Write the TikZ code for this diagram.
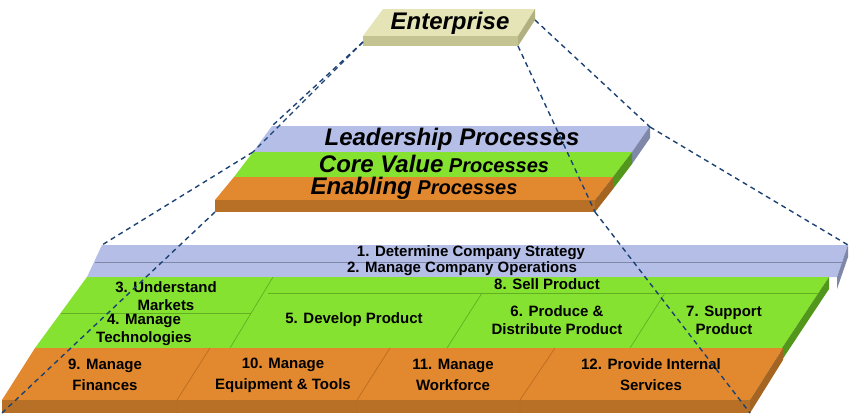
\documentclass[tikz,border=0pt]{standalone}
\usepackage{fontspec}
\setmainfont{Liberation Sans}

\definecolor{entTop}{RGB}{228,228,182}
\definecolor{entFront}{RGB}{196,196,146}
\definecolor{entSide}{RGB}{176,176,128}
\definecolor{leadBlue}{RGB}{180,190,230}
\definecolor{leadSide}{RGB}{128,136,170}
\definecolor{coreGreen}{RGB}{134,226,48}
\definecolor{coreLine}{RGB}{96,176,34}
\definecolor{coreSide}{RGB}{82,150,28}
\definecolor{enabOrange}{RGB}{226,136,46}
\definecolor{enabLine}{RGB}{186,108,34}
\definecolor{enabSide}{RGB}{184,112,38}
\definecolor{linkBlue}{RGB}{28,66,116}

\tikzset{
  link/.style={draw=linkBlue, line width=1.4pt, dash pattern=on 5pt off 4pt},
  celltext/.style={inner sep=0pt, align=center, font=\fontsize{15}{18}\selectfont\bfseries},
  lowtext/.style={celltext, font=\fontsize{15}{21}\selectfont\bfseries},
  tiertext/.style={inner sep=0pt, font=\fontsize{24}{28}\selectfont\bfseries\itshape},
  divider/.style={line width=0.7pt},
}

\begin{document}
\begin{tikzpicture}[x=1pt, y=-1pt]
    \useasboundingbox (0,0) rectangle (850,415);

    % Enterprise Block
    \fill[entTop] (383,9) -- (535,9) -- (518,36) -- (363,36) -- cycle;
    \fill[entFront] (363,36) -- (518,36) -- (518,46) -- (363,46) -- cycle;
    \fill[entSide] (535,9) -- (535,20) -- (518,46) -- (518,36) -- cycle;
    \node[tiertext] (enterprise) at (450,23) {Enterprise};
    \coordinate (ent-left) at (363,42);
    \coordinate (ent-right) at (535,20);
    \coordinate (ent-front) at (518,46);

    % Process Tiers
    \fill[leadBlue] (272,126) -- (650,126) -- (632,152) -- (253,152) -- cycle;
    \fill[leadSide] (650,126) -- (650,138) -- (632,164) -- (632,152) -- cycle;
    \fill[coreGreen] (253,152) -- (632,152) -- (613,177) -- (234,177) -- cycle;
    \fill[coreSide] (632,152) -- (632,164) -- (613,189) -- (613,177) -- cycle;
    \fill[enabOrange] (234,177) -- (613,177) -- (595,200) -- (215,200) -- cycle;
    \fill[enabSide] (215,200) -- (595,200) -- (595,212) -- (215,212) -- cycle;
    \fill[enabSide!90!black] (613,177) -- (613,189) -- (595,212) -- (595,200) -- cycle;
    \node[tiertext] (leadership) at (452,139) {Leadership Processes};
    \node[tiertext, font=\fontsize{20}{24}\selectfont\bfseries\itshape] (corevalue) at (434,164)
        {{\fontsize{24}{28}\selectfont Core Value} Processes};
    \node[tiertext, font=\fontsize{20}{24}\selectfont\bfseries\itshape] (enabling) at (414,188)
        {{\fontsize{24}{28}\selectfont Enabling} Processes};
    \coordinate (mid-top-left) at (272,126);
    \coordinate (mid-top-right) at (650,127);
    \coordinate (mid-green-left) at (253,152);
    \coordinate (mid-front-left) at (215,212);
    \coordinate (mid-front-right) at (595,212);

    % Leadership rows
    \fill[leadBlue] (102,245) -- (848,245) -- (837,277) -- (87,277) -- cycle;
    \fill[leadSide] (848,245) -- (848,257) -- (837,289) -- (837,277) -- cycle;
    \draw[divider, leadSide] (95,262) -- (843,262);

    % Core value cells
    \fill[coreGreen] (87,277) -- (829,277) -- (782,348) -- (35,348) -- cycle;
    \fill[coreSide] (829,277) -- (829,289) -- (782,360) -- (782,348) -- cycle;
    \draw[divider, coreLine] (273,277) -- (230,348);
    \draw[divider, coreLine] (268,293) -- (818,293);
    \draw[divider, coreLine] (61,313) -- (251,313);
    \draw[divider, coreLine] (482,293) -- (447,348);
    \draw[divider, coreLine] (665,293) -- (630,348);

    % Enabling cells
    \fill[enabOrange] (35,348) -- (783,348) -- (750,400) -- (2,400) -- cycle;
    \fill[enabSide] (2,400) -- (750,400) -- (750,413) -- (2,413) -- cycle;
    \fill[enabSide!90!black] (783,348) -- (783,360) -- (750,413) -- (750,400) -- cycle;
    \foreach \xa/\xb in {210/177, 390/357, 555/520} {
        \draw[divider, enabLine] (\xa,348) -- (\xb,400) -- (\xb,413);
    }
    \coordinate (base-top-left) at (102,245);
    \coordinate (base-top-right) at (848,245);
    \coordinate (base-front-left) at (2,413);
    \coordinate (base-front-right) at (750,413);

    % Labels
    \node[celltext] (strategy) at (471,253) {1. Determine Company Strategy};
    \node[celltext] (operations) at (462,269) {2. Manage Company Operations};
    \node[celltext] (markets) at (166,296) {3. Understand\\Markets};
    \node[celltext] (technologies) at (144,330) {4. Manage\\Technologies};
    \node[celltext] (develop) at (354,320) {5. Develop Product};
    \node[celltext] (produce) at (557,320) {6. Produce \&\\Distribute Product};
    \node[celltext] (support) at (724,320) {7. Support\\Product};
    \node[celltext] (sell) at (547,284) {8. Sell Product};
    \node[lowtext] (finances) at (105,375) {9. Manage\\Finances};
    \node[lowtext] (equipment) at (283,375) {10. Manage\\Equipment \& Tools};
    \node[lowtext] (workforce) at (453,375) {11. Manage\\Workforce};
    \node[lowtext] (services) at (651,375) {12. Provide Internal\\Services};

    % Links
    \draw[link] (ent-left) -- (mid-top-left);
    \draw[link] (ent-left) -- (mid-green-left);
    \draw[link] (ent-right) -- (mid-top-right);
    \draw[link] (ent-front) -- (mid-front-right);
    \draw[link] (mid-green-left) -- (base-top-left);
    \draw[link] (mid-front-left) -- (base-front-left);
    \draw[link] (mid-top-right) -- (base-top-right);
    \draw[link] (mid-front-right) -- (base-front-right);
\end{tikzpicture}
\end{document}
